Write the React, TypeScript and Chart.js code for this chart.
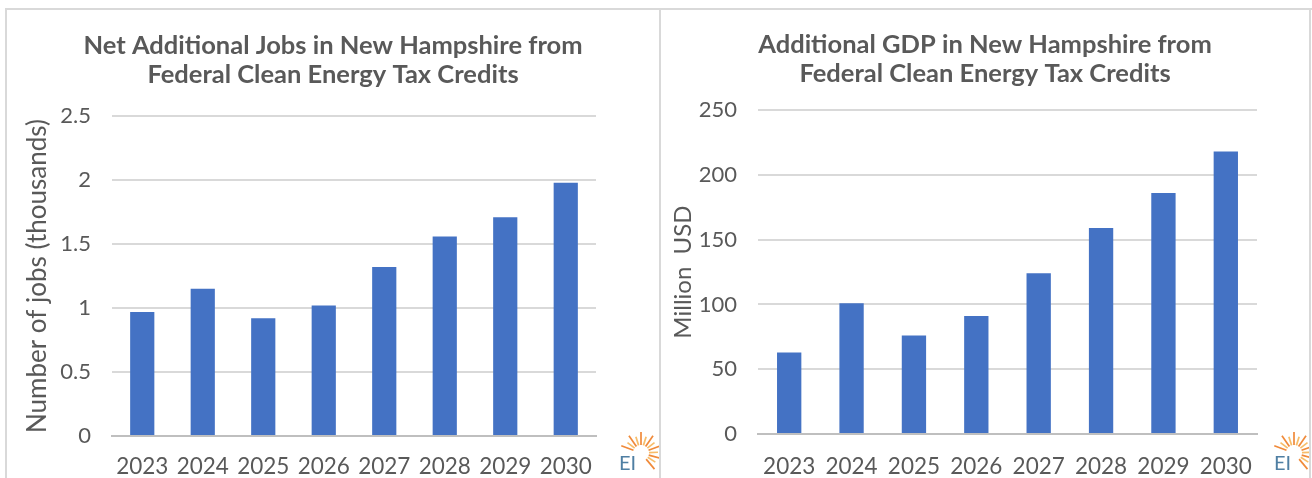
import React, { useEffect, useRef } from 'react';
import { Chart, registerables } from 'chart.js';

Chart.register(...registerables);

// ---- Data ----
const years = ['2023', '2024', '2025', '2026', '2027', '2028', '2029', '2030'];
const jobsValues = [0.97, 1.15, 0.92, 1.02, 1.32, 1.56, 1.71, 1.98];
const gdpValues = [63, 101, 76, 91, 124, 159, 186, 218];

const jobsTitle = ['Net Additional Jobs in New Hampshire from', 'Federal Clean Energy Tax Credits'];
const gdpTitle = ['Additional GDP in New Hampshire from', 'Federal Clean Energy Tax Credits'];
const jobsAxisTitle = 'Number of jobs (thousands)';
const gdpAxisTitle = 'Million  USD';

const jobsAxisMax = 2.5;
const jobsAxisStep = 0.5;
const gdpAxisMax = 250;
const gdpAxisStep = 50;

// ---- Style ----
const FONT = 'Lato, "Noto Sans", sans-serif';
const TEXT_GRAY = '#595959';
const BAR_BLUE = '#4472c4';
const GRID_GRAY = '#d9d9d9';
const BORDER_GRAY = '#d9d9d9';

const logoPlugin = {
  id: 'eiLogo',
  afterDraw(chart: any, _args: any, opts: any) {
    const ctx = chart.ctx as CanvasRenderingContext2D;
    const { cx, cy, tx, ty } = opts;
    ctx.save();
    for (let i = 0; i < 13; i++) {
      const a = ((-160 + i * 17.5) * Math.PI) / 180;
      const r1 = 8;
      const r2 = i % 2 === 0 ? 21 : 17;
      ctx.strokeStyle = i % 2 === 0 ? '#f08a3a' : '#f7bd6a';
      ctx.lineWidth = 1.7;
      ctx.beginPath();
      ctx.moveTo(cx + r1 * Math.cos(a), cy + r1 * Math.sin(a));
      ctx.lineTo(cx + r2 * Math.cos(a), cy + r2 * Math.sin(a));
      ctx.stroke();
    }
    ctx.fillStyle = '#4f7fa3';
    ctx.font = '20px ' + FONT;
    ctx.textAlign = 'left';
    ctx.textBaseline = 'alphabetic';
    ctx.fillText('EI', tx, ty);
    ctx.restore();
  },
};

type PanelProps = {
  left: number;
  width: number;
  values: number[];
  title: string[];
  axisTitle: string;
  axisTitleSize: number;
  max: number;
  step: number;
  yWidth: number;
  xHeight: number;
  rightPad: number;
  titlePadTop: number;
  titlePadBottom: number;
  yTitlePad: number;
  yTickPad: number;
  xTickPad: number;
  barPct: number;
  logo: { cx: number; cy: number; tx: number; ty: number };
};

const TOP = 10;
const HEIGHT = 468;

function Panel(p: PanelProps) {
  const ref = useRef<HTMLCanvasElement | null>(null);
  useEffect(() => {
    if (!ref.current) return;
    const chart = new Chart(ref.current, {
      type: 'bar',
      data: {
        labels: years,
        datasets: [
          {
            data: p.values,
            backgroundColor: BAR_BLUE,
            borderWidth: 0,
            categoryPercentage: 1,
            barPercentage: p.barPct,
            yAxisID: 'y',
          },
        ],
      },
      options: {
        animation: false,
        responsive: false,
        devicePixelRatio: 1,
        layout: { padding: 0 },
        plugins: {
          legend: { display: false },
          tooltip: { enabled: false },
          title: {
            display: true,
            text: p.title,
            color: TEXT_GRAY,
            font: { family: FONT, size: 25.5, weight: 'bold', lineHeight: 1.14 },
            padding: { top: p.titlePadTop, bottom: p.titlePadBottom },
          },
          eiLogo: p.logo,
        } as any,
        scales: {
          x: {
            grid: { display: false, drawTicks: false },
            border: { display: true, color: '#bfbfbf', width: 2 },
            ticks: {
              color: TEXT_GRAY,
              font: { family: FONT, size: 22.5 },
              padding: p.xTickPad,
              maxRotation: 0,
              autoSkip: false,
            },
            afterFit: (scale: any) => {
              scale.height = p.xHeight;
            },
          },
          y: {
            position: 'left',
            min: 0,
            max: p.max,
            grid: { color: GRID_GRAY, lineWidth: 2, drawTicks: false },
            border: { display: false },
            ticks: {
              stepSize: p.step,
              color: TEXT_GRAY,
              font: { family: FONT, size: 22 },
              padding: p.yTickPad,
              callback: (v: any) => String(v),
            },
            title: {
              display: true,
              text: p.axisTitle,
              color: TEXT_GRAY,
              font: { family: FONT, size: p.axisTitleSize },
              padding: { top: p.yTitlePad, bottom: 0 },
            },
            afterFit: (scale: any) => {
              scale.width = p.yWidth;
            },
          },
          // empty right-hand strip that holds the logo area
          pad: {
            type: 'linear',
            position: 'right',
            display: true,
            grid: { display: false, drawTicks: false },
            border: { display: false },
            ticks: { display: false },
            afterFit: (scale: any) => {
              scale.width = p.rightPad;
            },
          },
        },
      },
      plugins: [logoPlugin],
    } as any);
    return () => chart.destroy();
  }, []);
  return (
    <canvas
      ref={ref}
      width={p.width}
      height={HEIGHT}
      style={{ position: 'absolute', left: p.left, top: TOP, width: p.width, height: HEIGHT }}
    />
  );
}

export default function App() {
  const line = (style: React.CSSProperties) => (
    <div style={{ position: 'absolute', background: BORDER_GRAY, ...style }} />
  );
  return (
    <div
      style={{
        position: 'absolute',
        left: 0,
        top: 0,
        width: 1312,
        height: 478,
        overflow: 'hidden',
        background: '#ffffff',
      }}
    >
      {line({ left: 5, top: 8, width: 1307, height: 2 })}
      {line({ left: 5, top: 8, width: 2, height: 470 })}
      {line({ left: 659, top: 8, width: 2, height: 470 })}
      {line({ left: 1309, top: 8, width: 2, height: 470 })}
      <Panel
        left={7}
        width={652}
        values={jobsValues}
        title={jobsTitle}
        axisTitle={jobsAxisTitle}
        axisTitleSize={26}
        max={jobsAxisMax}
        step={jobsAxisStep}
        yWidth={105}
        xHeight={42}
        rightPad={63}
        titlePadTop={21.5}
        titlePadBottom={26.5}
        yTitlePad={15}
        yTickPad={21}
        xTickPad={17}
        barPct={0.4}
        logo={{ cx: 634, cy: 443, tx: 612, ty: 460 }}
      />
      <Panel
        left={661}
        width={648}
        values={gdpValues}
        title={gdpTitle}
        axisTitle={gdpAxisTitle}
        axisTitleSize={24}
        max={gdpAxisMax}
        step={gdpAxisStep}
        yWidth={97}
        xHeight={44}
        rightPad={52}
        titlePadTop={20.5}
        titlePadBottom={21.5}
        yTitlePad={8}
        yTickPad={21}
        xTickPad={19}
        barPct={0.39}
        logo={{ cx: 633, cy: 443, tx: 613, ty: 460 }}
      />
    </div>
  );
}
